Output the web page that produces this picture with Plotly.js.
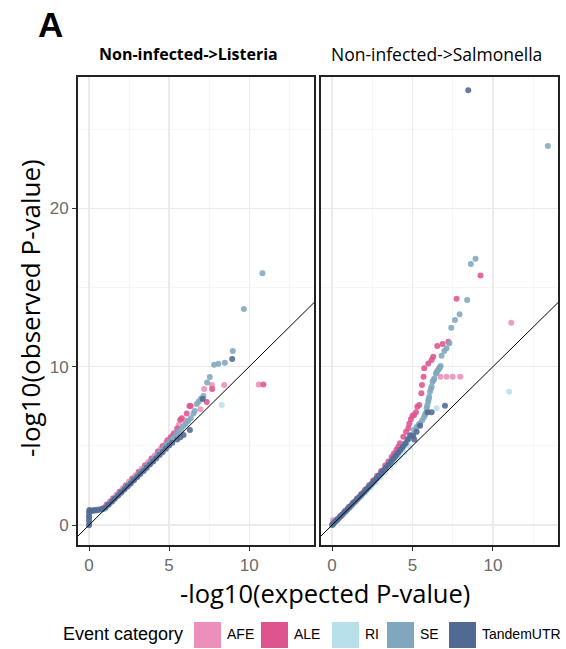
<!DOCTYPE html>
<html>
<head>
<meta charset="utf-8">
<script src="https://cdn.plot.ly/plotly-3.0.1.min.js"></script>
<style>html,body{margin:0;padding:0;background:#fff;}#chart{width:566px;height:649px;}</style>
</head>
<body>
<div id="chart"></div>
<script>
// ---------------- data ----------------
const categories = ['AFE', 'ALE', 'RI', 'SE', 'TandemUTR'];
const colors = ['#EC8FBA', '#DE548E', '#B8E0EA', '#7FA7BE', '#506A94'];
const panelTitles = ['Non-infected->Listeria', 'Non-infected->Salmonella'];
const xTickVals = [0, 5, 10];
const yTickVals = [0, 10, 20];
const refLine = [-2, 30];

// Listeria panel
const lis_AFE_x = [0.5, 0.9, 1.3, 1.7, 2.1, 2.5, 2.9, 3.3, 3.7, 4.1, 4.5, 4.8, 5.2, 5.6, 6.0, 6.96, 7.19, 7.67, 8.44, 10.6];
const lis_AFE_y = [0.98, 1.1, 1.5, 1.92, 2.32, 2.75, 3.15, 3.55, 3.98, 4.4, 4.85, 5.2, 5.65, 6.3, 6.6, 7.31, 8.59, 8.84, 8.84, 8.88];
const lis_ALE_x = [0.3, 0.7, 1.1, 1.5, 1.9, 2.3, 2.7, 3.1, 3.5, 3.9, 4.3, 4.6, 4.9, 5.1, 5.3, 5.5, 5.69, 5.79, 6.1, 6.27, 6.35, 7.35, 7.69, 10.89];
const lis_ALE_y = [0.95, 1.0, 1.3, 1.7, 2.1, 2.52, 2.94, 3.36, 3.78, 4.2, 4.65, 5.0, 5.35, 5.55, 5.8, 6.1, 6.63, 6.74, 7.05, 7.52, 7.52, 7.77, 8.59, 8.88];
const lis_RI_x = [0, 0.1, 0.5, 1.0, 1.5, 2.0, 2.5, 3.0, 3.5, 4.0, 4.5, 5.0, 5.3, 5.6, 8.29];
const lis_RI_y = [0.2, 0.85, 0.9, 1.02, 1.5, 2.02, 2.52, 3.02, 3.52, 4.02, 4.52, 5.05, 5.45, 5.75, 7.58];
const lis_SE_x = [0, 0, 0.05, 0.25, 0.45, 0.65, 0.85, 1.05, 1.25, 1.45, 1.65, 1.85, 2.05, 2.25, 2.45, 2.65, 2.85, 3.05, 3.25, 3.45, 3.65, 3.85, 4.05, 4.25, 4.45, 4.65, 4.85, 5.05, 5.25, 5.45, 5.6, 5.75, 5.9, 6.05, 6.2, 6.35, 6.52, 6.6, 6.73, 6.85, 7.0, 7.15, 7.375, 7.54, 7.81, 8.08, 8.48, 8.98, 9.67, 10.83];
const lis_SE_y = [0.1, 0.5, 0.88, 0.9, 0.93, 0.96, 1.0, 1.12, 1.32, 1.52, 1.72, 1.92, 2.12, 2.33, 2.53, 2.73, 2.93, 3.14, 3.35, 3.55, 3.76, 3.97, 4.18, 4.4, 4.62, 4.85, 5.08, 5.3, 5.5, 5.75, 5.9, 6.05, 6.25, 6.4, 6.58, 6.75, 7.05, 7.2, 7.64, 7.8, 8.0, 8.15, 9.01, 9.35, 10.13, 10.19, 10.25, 11.0, 13.64, 15.9];
const lis_TUTR_x = [0, 0, 0, 0, 0.02, 0.15, 0.35, 0.55, 0.8, 1.0, 1.2, 1.4, 1.6, 1.8, 2.0, 2.2, 2.4, 2.6, 2.8, 3.0, 3.2, 3.4, 3.6, 3.8, 4.0, 4.2, 4.4, 4.6, 4.8, 5.0, 5.2, 5.5, 5.7, 5.9, 6.3, 7.1, 8.94];
const lis_TUTR_y = [-0.02, 0.3, 0.55, 0.8, 0.95, 0.9, 0.92, 0.95, 1.0, 1.1, 1.28, 1.47, 1.66, 1.85, 2.05, 2.24, 2.44, 2.63, 2.83, 3.03, 3.22, 3.42, 3.62, 3.82, 4.02, 4.22, 4.42, 4.62, 4.82, 5.02, 5.2, 5.4, 5.55, 5.69, 6.0, 7.96, 10.49];

// Salmonella panel
const sal_AFE_x = [0.06, 0.25, 0.5, 0.75, 1.0, 1.3, 1.6, 1.9, 2.2, 2.5, 2.8, 3.1, 3.4, 3.7, 4.0, 6.75, 7.12, 7.5, 7.97, 11.14];
const sal_AFE_y = [0.3, 0.3, 0.55, 0.8, 1.07, 1.37, 1.68, 1.98, 2.3, 2.62, 2.94, 3.27, 3.6, 3.96, 4.35, 9.37, 9.37, 9.37, 9.37, 12.78];
const sal_ALE_x = [0.1, 0.3, 0.55, 0.8, 1.05, 1.3, 1.55, 1.8, 2.05, 2.3, 2.55, 2.8, 3.05, 3.3, 3.5, 3.7, 3.85, 4.0, 4.12, 4.22, 4.43, 4.6, 4.74, 4.8, 4.9, 5.0, 5.1, 5.22, 5.3, 5.42, 5.55, 5.59, 5.69, 5.73, 5.98, 6.19, 6.29, 6.54, 6.87, 7.23, 7.74, 9.23];
const sal_ALE_y = [0.14, 0.35, 0.61, 0.88, 1.14, 1.41, 1.68, 1.95, 2.23, 2.52, 2.81, 3.12, 3.42, 3.76, 4.02, 4.3, 4.52, 4.75, 4.95, 5.16, 5.58, 5.9, 6.11, 6.4, 6.68, 6.9, 6.95, 7.12, 7.47, 7.58, 8.32, 8.84, 9.37, 9.9, 10.21, 10.42, 10.63, 11.31, 11.43, 11.58, 14.3, 15.77];
const sal_RI_x = [0.05, 0.3, 0.6, 0.9, 1.2, 1.5, 1.8, 2.1, 2.4, 2.7, 3.0, 3.3, 3.6, 3.9, 4.2, 4.5, 4.84, 5.78, 6.5, 11.01];
const sal_RI_y = [0.0, 0.27, 0.57, 0.87, 1.17, 1.47, 1.78, 2.08, 2.39, 2.7, 3.02, 3.33, 3.66, 3.98, 4.32, 4.62, 4.95, 7.07, 7.37, 8.42];
const sal_SE_x = [0.03, 0.15, 0.28, 0.42, 0.58, 0.72, 0.88, 1.02, 1.18, 1.33, 1.48, 1.62, 1.78, 1.92, 2.08, 2.22, 2.38, 2.52, 2.68, 2.82, 2.98, 3.12, 3.28, 3.42, 3.58, 3.72, 3.88, 4.02, 4.18, 4.32, 4.48, 4.62, 4.78, 4.95, 5.1, 5.25, 5.4, 5.47, 5.6, 5.7, 5.78, 5.85, 5.88, 5.92, 5.98, 6.0, 6.04, 6.09, 6.14, 6.19, 6.25, 6.3, 6.36, 6.46, 6.5, 6.56, 6.62, 6.66, 6.7, 6.75, 6.81, 6.98, 7.12, 7.29, 7.41, 7.64, 7.93, 8.4, 8.63, 8.92, 13.42];
const sal_SE_y = [0.05, 0.17, 0.3, 0.45, 0.61, 0.76, 0.92, 1.07, 1.23, 1.39, 1.55, 1.7, 1.87, 2.02, 2.19, 2.34, 2.51, 2.67, 2.84, 3.0, 3.18, 3.34, 3.52, 3.68, 3.87, 4.04, 4.24, 4.42, 4.63, 4.82, 5.02, 5.2, 5.45, 5.7, 6.0, 6.2, 6.35, 6.42, 6.6, 6.8, 6.95, 7.1, 7.37, 7.55, 7.79, 7.95, 8.1, 8.42, 8.6, 8.74, 9.05, 9.15, 9.26, 9.58, 9.65, 9.75, 9.82, 9.9, 9.95, 10.04, 10.7, 10.99, 11.16, 11.48, 12.46, 12.95, 13.31, 14.21, 16.49, 16.82, 23.94];
const sal_TUTR_x = [0, 0.08, 0.2, 0.35, 0.5, 0.65, 0.8, 0.95, 1.1, 1.25, 1.4, 1.55, 1.7, 1.85, 2.0, 2.15, 2.3, 2.45, 2.6, 2.75, 2.9, 3.05, 3.2, 3.35, 3.5, 3.65, 3.8, 3.95, 4.1, 4.25, 4.4, 4.55, 4.7, 4.85, 5.05, 5.11, 5.26, 5.47, 5.94, 6.19, 7.02, 8.47];
const sal_TUTR_y = [0, 0.08, 0.22, 0.37, 0.53, 0.68, 0.84, 1.0, 1.15, 1.31, 1.47, 1.63, 1.79, 1.95, 2.11, 2.27, 2.44, 2.6, 2.77, 2.94, 3.11, 3.28, 3.46, 3.63, 3.81, 3.99, 4.18, 4.37, 4.56, 4.75, 4.95, 5.15, 5.4, 5.65, 5.62, 5.41, 5.89, 6.27, 7.12, 7.12, 7.54, 27.46];

const panels = [
  { xs: [lis_AFE_x, lis_ALE_x, lis_RI_x, lis_SE_x, lis_TUTR_x], ys: [lis_AFE_y, lis_ALE_y, lis_RI_y, lis_SE_y, lis_TUTR_y] },
  { xs: [sal_AFE_x, sal_ALE_x, sal_RI_x, sal_SE_x, sal_TUTR_x], ys: [sal_AFE_y, sal_ALE_y, sal_RI_y, sal_SE_y, sal_TUTR_y] }
];

// ---------------- layout helpers ----------------
const W = 566, H = 649;
const M = { l: 78, r: 8, t: 77, b: 104 };
const PW = W - M.l - M.r, PH = H - M.t - M.b;
const pxX = p => (p - M.l) / PW;
const pxY = p => (H - M.b - p) / PH;

const traces = [];
panels.forEach((pan, pi) => {
  const xa = pi === 0 ? 'x' : 'x2';
  const ya = pi === 0 ? 'y' : 'y2';
  categories.forEach((c, ci) => {
    traces.push({
      type: 'scatter', mode: 'markers', x: pan.xs[ci], y: pan.ys[ci],
      xaxis: xa, yaxis: ya, name: c, showlegend: false, hoverinfo: 'skip',
      marker: { color: colors[ci], size: 6, opacity: 0.88, line: { width: 0 } }
    });
  });
  traces.push({
    type: 'scatter', mode: 'lines', x: refLine, y: refLine, xaxis: xa, yaxis: ya,
    showlegend: false, hoverinfo: 'skip', line: { color: '#000', width: 1 }
  });
});

const gridMajor = '#EBEBEB', gridMinor = '#F4F4F4';
function xAxis(dom) {
  return {
    domain: dom, range: [-0.69, 14.05], tickvals: xTickVals, ticktext: xTickVals.map(String),
    ticks: 'outside', ticklen: 4, tickwidth: 1, tickcolor: '#333',
    tickfont: { family: 'Liberation Sans, Arial, sans-serif', size: 17, color: '#6b6b6b' },
    showgrid: true, gridcolor: gridMajor, gridwidth: 1.3, zeroline: false,
    minor: { tickvals: [2.5, 7.5, 12.5], showgrid: true, gridcolor: gridMinor, gridwidth: 0.8, ticks: '' },
    showline: true, mirror: true, linecolor: '#222', linewidth: 2
  };
}
function yAxis(show) {
  return {
    domain: [0, 1], range: [-1.26, 28.3], tickvals: yTickVals, ticktext: yTickVals.map(String),
    ticks: show ? 'outside' : '', ticklen: 4, tickwidth: 1, tickcolor: '#333', showticklabels: show,
    tickfont: { family: 'Liberation Sans, Arial, sans-serif', size: 17, color: '#6b6b6b' },
    showgrid: true, gridcolor: gridMajor, gridwidth: 1.3, zeroline: false,
    minor: { tickvals: [5, 15, 25], showgrid: true, gridcolor: gridMinor, gridwidth: 0.8, ticks: '' },
    showline: true, mirror: true, linecolor: '#222', linewidth: 2
  };
}

const annotations = [
  { text: '<b>A</b>', xref: 'paper', yref: 'paper', x: pxX(36), y: pxY(25), xanchor: 'left', yanchor: 'middle',
    showarrow: false, font: { family: 'Liberation Sans, Arial, sans-serif', size: 35, color: '#000' } },
  { text: '<b>' + panelTitles[0] + '</b>', xref: 'paper', yref: 'paper', x: pxX(188), y: pxY(54), xanchor: 'center', yanchor: 'middle',
    showarrow: false, font: { family: 'Open Sans, sans-serif', size: 16, color: '#000' } },
  { text: panelTitles[1], xref: 'paper', yref: 'paper', x: pxX(436), y: pxY(54), xanchor: 'center', yanchor: 'middle',
    showarrow: false, font: { family: 'Open Sans, sans-serif', size: 17.5, color: '#000' } },
  { text: '-log10(expected P-value)', xref: 'paper', yref: 'paper', x: pxX(325), y: pxY(593), xanchor: 'center', yanchor: 'middle',
    showarrow: false, font: { family: 'Open Sans, sans-serif', size: 25.5, color: '#000' } },
  { text: '-log10(observed P-value)', xref: 'paper', yref: 'paper', x: pxX(30), y: pxY(308), xanchor: 'center', yanchor: 'middle',
    textangle: -90, showarrow: false, font: { family: 'Open Sans, sans-serif', size: 26, color: '#000' } },
  { text: 'Event category', xref: 'paper', yref: 'paper', x: pxX(61), y: pxY(634), xanchor: 'left', yanchor: 'middle',
    showarrow: false, font: { family: 'Liberation Sans, Arial, sans-serif', size: 18, color: '#000' } }
];

const legendKeyLeft = [194, 261, 332, 387, 449];
const legendKeyW = 27;
const shapes = [];
categories.forEach((c, ci) => {
  const x0 = legendKeyLeft[ci];
  shapes.push({ type: 'rect', xref: 'paper', yref: 'paper', x0: pxX(x0), x1: pxX(x0 + legendKeyW), y0: pxY(648), y1: pxY(622),
    fillcolor: colors[ci], line: { width: 0 } });
  annotations.push({ text: c, xref: 'paper', yref: 'paper', x: pxX(x0 + legendKeyW + 4), y: pxY(634), xanchor: 'left', yanchor: 'middle',
    showarrow: false, font: { family: 'Liberation Sans, Arial, sans-serif', size: 14, color: '#000' } });
});

const layout = {
  width: W, height: H, margin: M, paper_bgcolor: '#fff', plot_bgcolor: '#fff', showlegend: false,
  xaxis: xAxis([0, pxX(314)]),
  xaxis2: xAxis([pxX(321), 1]),
  yaxis: Object.assign(yAxis(true), { anchor: 'x' }),
  yaxis2: Object.assign(yAxis(false), { anchor: 'x2', matches: 'y' }),
  annotations: annotations, shapes: shapes
};
layout.xaxis.anchor = 'y';
layout.xaxis2.anchor = 'y2';

Plotly.newPlot('chart', traces, layout, { staticPlot: true, displayModeBar: false });
</script>
</body>
</html>
